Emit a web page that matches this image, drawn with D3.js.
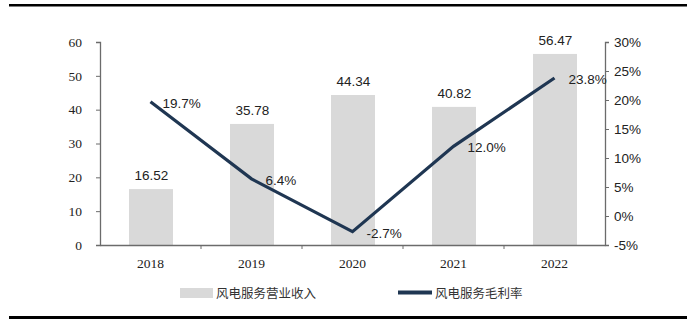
<!DOCTYPE html>
<html><head><meta charset="utf-8">
<script src="https://cdn.jsdelivr.net/npm/d3@7"></script>
<style>body{margin:0;background:#fff}svg{display:block}</style>
</head><body>
<script>
const categories = ["2018","2019","2020","2021","2022"];
const revenue = [16.52, 35.78, 44.34, 40.82, 56.47];
const margin = [19.7, 6.4, -2.7, 12.0, 23.8];
const leftTicks = [0,10,20,30,40,50,60];
const rightTicks = [-5,0,5,10,15,20,25,30];
const legendLabels = ["风电服务营业收入","风电服务毛利率"];

const W=696,H=329;
const svg=d3.select("body").append("svg").attr("width",W).attr("height",H);
const x0=100,x1=605,yTop=42,yBot=245;
const x=d3.scaleBand().domain(categories).range([x0,x1]).paddingInner(0).paddingOuter(0);
const yL=d3.scaleLinear().domain([0,60]).range([yBot,yTop]);
const yR=d3.scaleLinear().domain([-5,30]).range([yBot,yTop]);
const serif="'Liberation Serif','Times New Roman',serif";
const sans="'Liberation Sans',Arial,sans-serif";
const axisColor="#6b6b6b";

// frame lines
svg.append("rect").attr("x",9).attr("y",4).attr("width",678).attr("height",2.5).attr("fill","#000");
svg.append("rect").attr("x",9).attr("y",316).attr("width",678).attr("height",3).attr("fill","#000");

// bars
const bw=44;
svg.selectAll(".bar").data(revenue).enter().append("rect")
 .attr("x",(d,i)=>x(categories[i])+x.bandwidth()/2-bw/2+0.5)
 .attr("y",d=>yL(d)).attr("width",bw).attr("height",d=>yBot-yL(d)).attr("fill","#d9d9d9");
svg.selectAll(".blab").data(revenue).enter().append("text")
 .attr("x",(d,i)=>x(categories[i])+x.bandwidth()/2+1).attr("y",d=>yL(d)-9)
 .attr("text-anchor","middle").attr("font-family",sans).attr("font-size",13.5).attr("fill","#222")
 .text(d=>d.toFixed(2));

// axes
const gl=svg.append("g").attr("transform",`translate(${x0},0)`)
 .call(d3.axisLeft(yL).tickValues(leftTicks).tickSize(4).tickSizeOuter(4).tickPadding(14));
gl.selectAll("text").attr("font-family",serif).attr("font-size",13.5).attr("fill","#222");
const gr=svg.append("g").attr("transform",`translate(${x1},0)`)
 .call(d3.axisRight(yR).tickValues(rightTicks).tickSize(4).tickSizeOuter(4).tickPadding(5).tickFormat(d=>d+"%"));
gr.selectAll("text").attr("font-family",sans).attr("font-size",13.5).attr("fill","#222");
const gb=svg.append("g").attr("transform",`translate(0,${yBot})`)
 .call(d3.axisBottom(x).tickSize(0).tickPadding(13));
gb.selectAll("text").attr("font-family",serif).attr("font-size",13.5).attr("fill","#222");
// category boundary ticks
svg.selectAll(".bt").data(categories.slice(1)).enter().append("line")
 .attr("x1",d=>x(d)).attr("x2",d=>x(d)).attr("y1",yBot).attr("y2",yBot+4).attr("stroke",axisColor);
[gl,gr,gb].forEach(g=>{g.selectAll("path,line").attr("stroke",axisColor);g.select(".domain").attr("stroke-width",1.3);});

// line
const line=d3.line().x((d,i)=>x(categories[i])+x.bandwidth()/2).y(d=>yR(d));
svg.append("path").datum(margin).attr("d",line).attr("fill","none").attr("stroke","#1f3652").attr("stroke-width",3.2);
const offs=[[12,6],[14,6],[14,6],[14,6],[14,6]];
svg.selectAll(".llab").data(margin).enter().append("text")
 .attr("x",(d,i)=>x(categories[i])+x.bandwidth()/2+offs[i][0]).attr("y",d=>yR(d)+offs[0][1])
 .attr("font-family",sans).attr("font-size",13.5).attr("fill","#222")
 .text(d=>d.toFixed(1)+"%");

// legend
svg.append("rect").attr("x",180).attr("y",288).attr("width",33).attr("height",10).attr("fill","#d9d9d9");
svg.append("text").attr("x",216).attr("y",298).attr("font-family","'Noto Sans CJK SC',sans-serif").attr("font-size",12.5).attr("fill","#333").text(legendLabels[0]);
svg.append("line").attr("x1",398).attr("x2",432).attr("y1",292.5).attr("y2",292.5).attr("stroke","#1f3652").attr("stroke-width",4);
svg.append("text").attr("x",435).attr("y",298).attr("font-family","'Noto Sans CJK SC',sans-serif").attr("font-size",12.5).attr("fill","#333").text(legendLabels[1]);
</script>
</body></html>
